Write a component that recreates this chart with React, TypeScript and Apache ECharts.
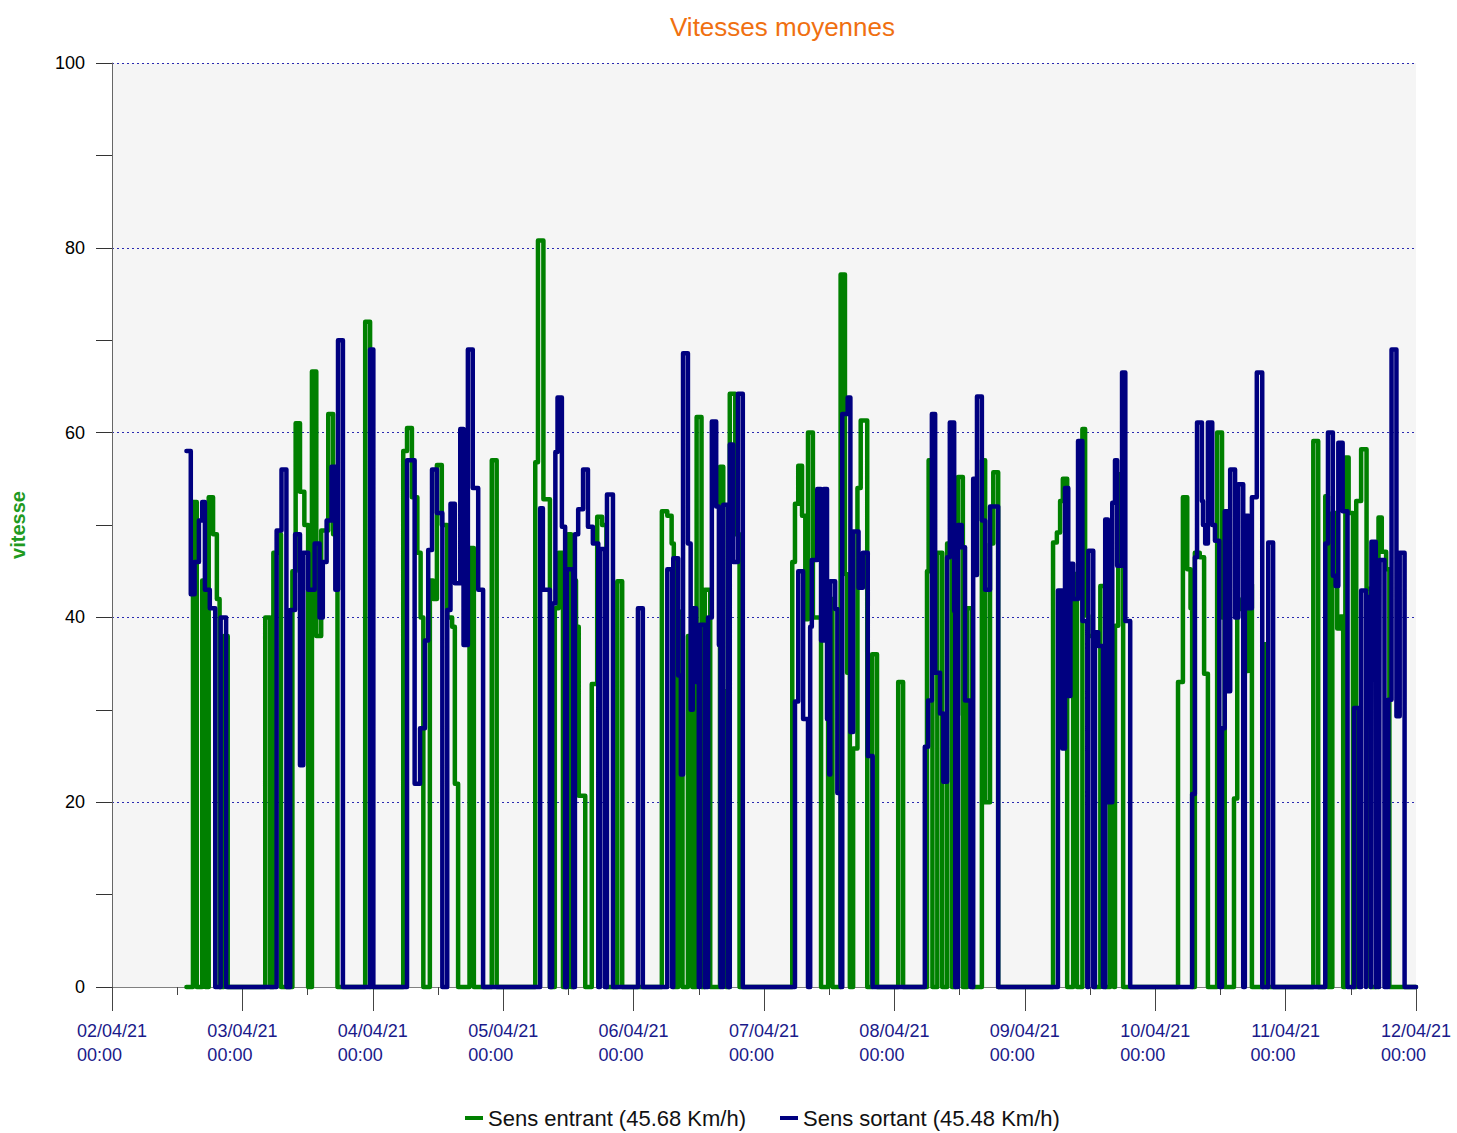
import React, { useEffect, useRef } from "react";
import * as echarts from "echarts";

// x values are hours since 02/04/21 00:00 ; y values are speeds (km/h)
const dayLabels = ["02/04/21", "03/04/21", "04/04/21", "05/04/21", "06/04/21", "07/04/21", "08/04/21", "09/04/21", "10/04/21", "11/04/21", "12/04/21"];
const hourLabel = "00:00";
const yTicks = [0, 20, 40, 60, 80, 100];

const entrantJ1 = [[13.7,0],[14.9,52.5],[15.6,0],[16.6,44],[17.2,0],[17.8,53],[18.6,49],[19.3,42],[19.8,0],[20.6,38],[21.3,0]];
const entrantJ2 = [[28.2,40],[29.1,0],[29.7,47],[30.5,49],[31.1,0],[33.2,45],[33.8,61],[34.6,53.6],[35.4,50],[36.1,0],[36.8,66.6],[37.6,38],[38.5,49.4],[39.8,62],[40.7,49],[41.5,0],[46.6,72],[47.5,0]];
const entrantJ3 = [[53.6,58],[54.3,60.5],[55.2,53],[56.2,47],[56.8,40],[57.3,0],[58.5,44],[59.1,42],[59.8,56.5],[60.7,50],[61.7,40],[62.6,39],[63.1,22],[63.7,0],[65.8,47.5],[66.6,0],[69.9,57],[70.8,0]];
const entrantJ4 = [[77.9,56.8],[78.4,80.8],[79.4,52.8],[80.6,0],[81.5,41],[82.2,47],[83,0],[83.9,49],[84.5,0],[84.9,44],[85.4,39],[85.9,20.7],[87.1,0],[88.3,32.8],[89.3,50.9],[90.2,50],[91,0],[93,43.9],[93.9,0]];
const entrantJ5 = [[101.2,51.5],[102.2,51],[103,48],[103.4,0],[104.2,40.6],[105,0],[106,38],[106.8,0],[107.6,61.7],[108.5,0],[109.1,43],[110.1,0],[111.9,56.3],[112.5,32],[113,0],[113.7,64.2],[114.7,49],[115.5,0]];
const entrantJ6 = [[125.2,46],[125.7,52.3],[126.3,56.4],[127,51],[127.6,39.8],[128.1,60],[129,40],[130.5,0],[131.8,42],[132.6,0],[134.1,77.1],[134.9,44.7],[135.3,34],[135.8,0],[136.4,25.8],[137.2,54],[137.8,61.3],[139,0],[139.9,36],[140.8,0],[144.7,33],[145.6,0]];
const entrantJ7 = [[150,45],[150.3,57],[151,0],[151.9,47],[152.8,0],[153.7,48],[154.6,0],[155.2,29.4],[155.7,55.2],[156.6,0],[157.4,41],[158.3,0],[160.1,57],[160.7,20],[161.6,48],[162.2,55.7],[163.1,0]];
const entrantJ8 = [[173.2,48.1],[173.9,49.2],[174.5,52.6],[175,55],[175.8,0],[176.9,44.7],[177.6,0],[178.6,60.4],[179.1,40.2],[179.7,38],[180.9,0],[181.9,43.4],[182.8,0],[183.7,20],[184.4,0],[184.6,39.1],[185.2,55.5],[186.1,0]];
const entrantJ9 = [[196.2,33],[197.1,53],[197.9,45.2],[198.5,41],[198.8,0],[199.3,47],[200.2,46.5],[201,33.9],[201.7,0],[203.4,60],[204.3,40],[204.8,0],[206.5,20.4],[207.1,40.9],[208,42],[208.7,34.2],[209.1,43.6],[209.8,0],[211.9,37.1],[212.6,0]];
const entrantJ10 = [[221.1,59.1],[222,0],[223.3,53.1],[223.8,0],[224.6,51.3],[225.5,38.8],[226.1,40.1],[226.6,0],[227,57.3],[227.6,51.3],[228.4,0],[229,52.6],[229.9,58.2],[230.9,43.1],[231.6,0],[233.1,50.8],[233.7,47.1],[234.5,45.2],[235.1,0],[240,0]];

const sortantJ1 = [[13.7,58],[14.5,42.5],[15.2,46],[16,50.5],[16.6,52.5],[17.1,43],[18,41],[19,0],[20,40],[21,0]];
const sortantJ2 = [[30.3,49.4],[31.2,56],[32.1,0],[32.8,40.8],[33.7,49],[34.6,24],[35.2,47],[36.1,43],[37.3,48],[38.2,40],[38.8,46],[39.5,50.5],[40.4,56.3],[41.1,43],[41.6,70],[42.5,0],[47.5,69],[48.1,0]];
const sortantJ3 = [[54.3,57],[55.7,22],[56.7,28],[57.6,37.5],[58.2,47.3],[58.9,56],[59.8,51.3],[60.8,0],[61.7,40.8],[62.3,52.3],[63.1,43.7],[64.1,60.4],[64.7,37],[65.5,69],[66.4,54],[67.4,43],[68.3,0]];
const sortantJ4 = [[78.8,51.8],[79.3,43],[80.6,0],[81,41.5],[81.6,57.9],[82,63.8],[82.8,49.8],[83.4,0],[83.7,45.2],[84.9,0],[85.2,49],[85.8,51.7],[86.7,56],[87.6,49.8],[88.5,48],[89.5,0],[89.8,47.4],[90.7,0],[91.1,53.3],[92.2,0],[96.8,41],[97.7,0]];
const sortantJ5 = [[102.2,45.2],[103.1,0],[103.3,46.4],[104.2,33.7],[104.7,23],[105.1,68.6],[106,48],[106.5,30],[106.9,41],[107.5,33],[108,0],[108.2,39.2],[109.1,0],[109.7,40],[110.4,61.2],[111.2,52],[111.7,37],[112,0],[112.5,52.2],[113.4,0],[113.7,58.7],[114.3,46],[115.2,64.2],[116.1,0]];
const sortantJ6 = [[125.7,30.9],[126.3,45],[127.2,29],[128.1,0],[128.5,39],[128.8,46.2],[129.8,53.9],[130.5,37.5],[131,53.9],[131.6,29],[132,23],[132.2,43.9],[133.1,40.9],[133.5,21],[134.1,0],[134.4,62],[135.4,63.8],[135.9,27.6],[136.4,49.3],[137.4,43.2],[138.2,47],[139.1,25],[140,0]];
const sortantJ7 = [[149.6,26],[150.2,31],[150.9,62],[151.5,34],[152.4,29.6],[153,22.2],[153.7,46.5],[154.2,61.1],[155,40.7],[155.2,0],[155.7,50],[156.4,47.6],[157,31],[158,0],[158.5,55],[158.8,44.6],[159.2,63.9],[160.1,50.5],[160.7,43],[161.6,52],[163.1,0]];
const sortantJ8 = [[174.1,42.9],[174.9,25.8],[175.4,54],[176,31.5],[176.4,45.8],[176.9,42],[177.8,59.1],[178.6,39.6],[179.5,0],[179.7,47.2],[180.6,0],[180.9,38.4],[181.5,36.9],[182.4,0],[182.8,50.6],[183.3,20],[184.1,52.4],[184.6,57],[185,45.6],[185.9,66.5],[186.5,39.6],[187.4,0]];
const sortantJ9 = [[198.8,20.9],[199.3,46.5],[199.7,61.1],[200.6,52.6],[200.8,50],[201.2,48],[201.7,61.1],[202.5,50],[203,48.3],[203.8,0],[204.3,28],[204.8,51.5],[205.5,32],[205.8,56],[206.7,40],[207.3,54.4],[208.2,0],[208.5,51],[209.2,41],[209.8,53],[210.7,66.5],[211.7,0],[212.8,48.1],[213.7,0]];
const sortantJ10 = [[223.3,48],[223.8,60],[224.7,44.5],[225.2,43.4],[225.7,58.9],[226.5,51.5],[227.4,0],[228.6,30.2],[229.5,0],[229.9,42.9],[230.8,0],[230.9,42.2],[231.7,0],[231.8,48.2],[232.6,0],[232.7,42.5],[233.2,0],[233.3,46.2],[234.2,0],[234.9,31.1],[235.5,69],[236.4,29.3],[237,47],[237.9,0],[240,0]];

const entrantName = "Sens entrant (45.68 Km/h)";
const sortantName = "Sens sortant (45.48 Km/h)";

const entrant = [entrantJ1, entrantJ2, entrantJ3, entrantJ4, entrantJ5, entrantJ6, entrantJ7, entrantJ8, entrantJ9, entrantJ10].flat();
const sortant = [sortantJ1, sortantJ2, sortantJ3, sortantJ4, sortantJ5, sortantJ6, sortantJ7, sortantJ8, sortantJ9, sortantJ10].flat();

const FONT = "Liberation Sans, Arial, sans-serif";
const NBSP5 = "\u00A0\u00A0\u00A0\u00A0\u00A0";

export default function App() {
  const ref = useRef<HTMLDivElement>(null);
  useEffect(() => {
    document.body.style.margin = "0";
    const chart = echarts.init(ref.current!, null, { renderer: "svg" });
    chart.setOption({
      animation: false,
      backgroundColor: "#ffffff",
      textStyle: { fontFamily: FONT },
      title: {
        text: "Vitesses moyennes",
        left: 665,
        top: 9,
        textStyle: { color: "#f07010", fontSize: 26, fontWeight: "normal", fontFamily: FONT },
      },
      legend: {
        left: 460,
        top: 1102,
        icon: "rect",
        itemWidth: 18,
        itemHeight: 4,
        itemGap: 34,
        textStyle: { color: "#111", fontSize: 22, fontFamily: FONT },
        data: [entrantName, sortantName],
      },
      grid: {
        left: 112,
        right: 41,
        top: 63,
        bottom: 146,
        show: true,
        backgroundColor: "#f5f5f5",
        borderWidth: 0,
      },
      xAxis: {
        type: "value",
        min: 0,
        max: 240,
        interval: 24,
        offset: 6,
        axisLine: { show: true, lineStyle: { color: "#808080", width: 1 } },
        axisTick: { show: true, length: 24, lineStyle: { color: "#444" } },
        minorTick: { show: true, splitNumber: 2, length: 8, lineStyle: { color: "#444" } },
        splitLine: { show: false },
        axisLabel: {
          color: "#1a1a8a",
          fontSize: 18,
          lineHeight: 24,
          margin: 26,
          fontFamily: FONT,
          formatter: (v: number) => `${dayLabels[Math.round(v / 24)]}\n${hourLabel}${NBSP5}`,
        },
      },
      yAxis: {
        type: "value",
        min: 0,
        max: 100,
        interval: 20,
        offset: 6,
        name: "vitesse",
        nameLocation: "middle",
        nameRotate: 90,
        nameGap: 78,
        nameTextStyle: { color: "#1f9a1f", fontSize: 20, fontWeight: "bold", fontFamily: FONT },
        axisLine: { show: true, lineStyle: { color: "#666", width: 1 } },
        axisTick: { show: true, length: 16, lineStyle: { color: "#333" } },
        minorTick: { show: true, splitNumber: 2, length: 16, lineStyle: { color: "#333" } },
        splitLine: { show: true, lineStyle: { color: "#2a2ab0", type: [2, 3], width: 1 } },
        axisLabel: {
          color: "#000",
          fontSize: 18,
          margin: 21,
          fontFamily: FONT,
          formatter: (v: number) => (yTicks.includes(v) ? String(v) : ""),
        },
      },
      series: [
        {
          name: entrantName,
          type: "line",
          step: "end",
          data: entrant,
          showSymbol: false,
          clip: false,
          color: "#008000",
          lineStyle: { width: 4.5, color: "#008000", cap: "round", join: "round" },
        },
        {
          name: sortantName,
          type: "line",
          step: "end",
          data: sortant,
          showSymbol: false,
          clip: false,
          color: "#000080",
          lineStyle: { width: 4.5, color: "#000080", cap: "round", join: "round" },
        },
      ],
    });
    return () => chart.dispose();
  }, []);
  return <div ref={ref} style={{ width: 1457, height: 1133 }} />;
}
